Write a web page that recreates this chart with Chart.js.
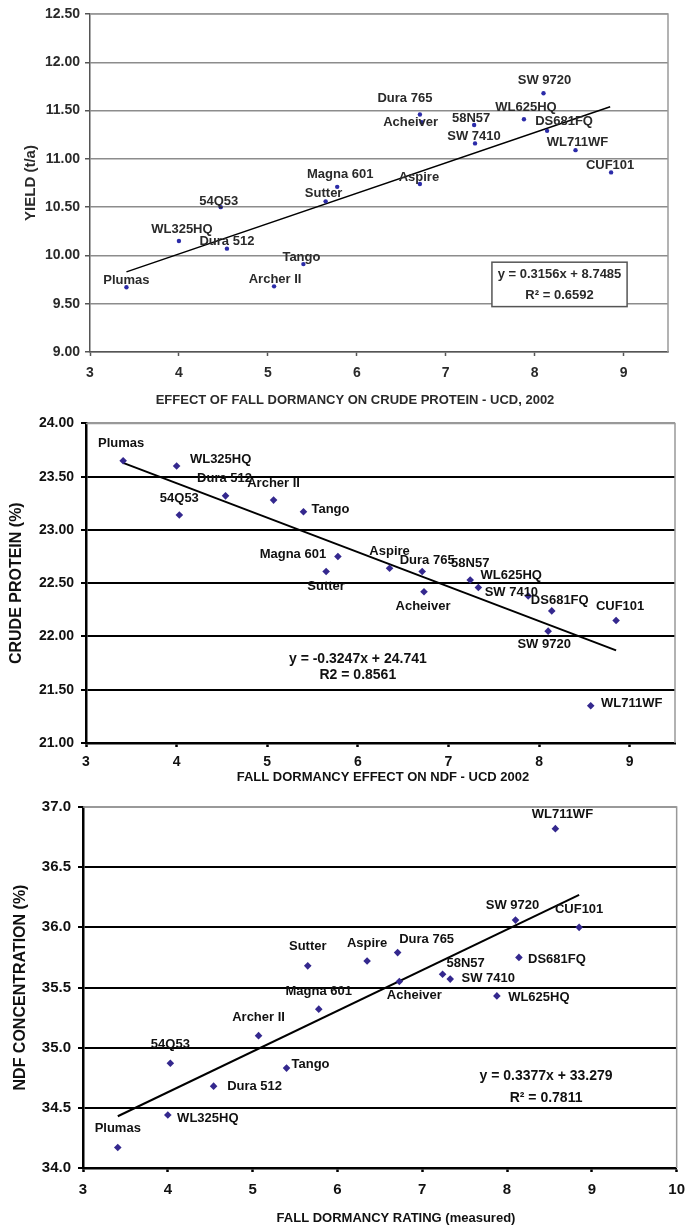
<!DOCTYPE html>
<html>
<head>
<meta charset="utf-8">
<script src="https://cdn.jsdelivr.net/npm/chart.js@4/dist/chart.umd.min.js"></script>
<style>
  body { margin: 0; background: #fff; width: 694px; height: 1230px; overflow: hidden; }
  .box { position: absolute; left: 0; width: 694px; }
</style>
</head>
<body>
<div class="box" style="top:0;height:408px"><canvas id="yieldChart"></canvas></div>
<div class="box" style="top:408px;height:377px"><canvas id="proteinChart"></canvas></div>
<div class="box" style="top:785px;height:445px"><canvas id="ndfChart"></canvas></div>
<script>
const varieties = ["Plumas", "WL325HQ", "54Q53", "Dura 512", "Archer II", "Tango", "Sutter", "Magna 601",
  "Aspire", "Dura 765", "Acheiver", "58N57", "SW 7410", "WL625HQ", "SW 9720", "DS681FQ", "WL711WF", "CUF101"];

// fall dormancy rating (measured) as plotted
const fdRating = [3.41, 4.00, 4.03, 4.54, 5.07, 5.40, 5.65, 5.78, 6.35, 6.71, 6.73, 7.24, 7.33, 7.88, 8.10, 8.14, 8.57, 8.85];
const fdRatingYield = [3.41, 4.00, 4.47, 4.54, 5.07, 5.40, 5.65, 5.78, 6.71, 6.71, 6.73, 7.32, 7.33, 7.88, 8.10, 8.14, 8.46, 8.86];

const yieldVals = [9.67, 10.15, 10.50, 10.07, 9.68, 9.91, 10.56, 10.71, 10.74, 11.46, 11.38, 11.35, 11.16, 11.41, 11.68, 11.29, 11.09, 10.86];
const proteinVals = [23.65, 23.60, 23.14, 23.32, 23.28, 23.17, 22.61, 22.75, 22.64, 22.61, 22.42, 22.53, 22.46, 22.38, 22.05, 22.24, 21.35, 22.15];
const ndfVals = [34.17, 34.44, 34.87, 34.68, 35.10, 34.83, 35.68, 35.32, 35.72, 35.79, 35.55, 35.61, 35.57, 35.43, 36.06, 35.75, 36.82, 36.00];

// trend line end points
const yieldTrendX = [3.41, 8.85];
const yieldTrendY = [9.83, 11.54];
const proteinTrendX = [3.41, 8.85];
const proteinTrendY = [23.63, 21.87];
const ndfTrendX = [3.41, 8.85];
const ndfTrendY = [34.43, 36.27];

const yieldEq = ["y = 0.3156x + 8.7485", "R\u00B2 = 0.6592"];
const proteinEq = ["y = -0.3247x + 24.741", "R2 = 0.8561"];
const ndfEq = ["y = 0.3377x + 33.279", "R\u00B2 = 0.7811"];

// label placement relative to each point (px)
const yieldLabelPos = [[0,-7],[3,-12],[-2,-6],[0,-7],[1,-7],[-2,-7],[-2,-8],[3,-12],[-1,-7],[-15,-16],[-11,0],[-3,-7],[-1,-7],[2,-12],[1,-13],[17,-9],[2,-8],[-1,-7]];
const proteinLabelPos = [[-2,-17],[44,-7],[0,-17],[-1,-17],[0,-17],[27,-2],[0,15],[-45,-2],[0,-17],[5,-11],[-1,15],[0,-17],[33,5],[-17,-21],[-4,13],[8,-10],[41,-2],[4,-14]];
const ndfLabelPos = [[0,-19],[40,3],[0,-19],[41,0],[0,-18],[24,-4],[0,-19],[0,-18],[0,-18],[29,-13],[15,14],[23,-11],[38,-1],[42,1],[-3,-15],[38,2],[7,-14],[0,-18]];

const FONT = "'Liberation Sans', Arial, sans-serif";

const pointLabels = {
  id: "pointLabels",
  afterDatasetsDraw(chart, args, opts) {
    const ctx = chart.ctx;
    const meta = chart.getDatasetMeta(0);
    const xs = chart.scales.x, ys = chart.scales.y;
    ctx.save();
    ctx.font = opts.font;
    ctx.fillStyle = opts.color;
    ctx.textAlign = "center";
    ctx.textBaseline = "middle";
    meta.data.forEach((pt, i) => {
      const off = opts.offsets[i];
      ctx.fillText(opts.names[i], pt.x + off[0], pt.y + off[1]);
    });
    const eq = opts.equation;
    ctx.font = eq.font;
    const cx = xs.getPixelForValue(eq.x);
    if (eq.box) {
      const l = xs.getPixelForValue(eq.box[0]), r = xs.getPixelForValue(eq.box[1]);
      const t = ys.getPixelForValue(eq.box[2]), b = ys.getPixelForValue(eq.box[3]);
      ctx.fillStyle = "#fff";
      ctx.fillRect(l, t, r - l, b - t);
      ctx.strokeStyle = "#555";
      ctx.lineWidth = 1.5;
      ctx.strokeRect(l, t, r - l, b - t);
      ctx.fillStyle = opts.color;
    }
    eq.lines.forEach((txt, k) => ctx.fillText(txt, cx, ys.getPixelForValue(eq.y[k])));

    // x axis caption
    const cap = opts.caption;
    ctx.font = cap.font;
    ctx.fillText(cap.text, cap.x, cap.y);
    ctx.restore();
  }
};

const frame = {
  id: "frame",
  beforeDatasetsDraw(chart, args, opts) {
    const a = chart.chartArea, ctx = chart.ctx;
    ctx.save();
    ctx.strokeStyle = opts.color;
    ctx.lineWidth = opts.width;
    ctx.beginPath();
    ctx.moveTo(a.left, a.top);
    ctx.lineTo(a.right, a.top);
    ctx.lineTo(a.right, a.bottom);
    ctx.stroke();
    ctx.restore();
  }
};

function makeChart(id, c) {
  const pts = c.xs.map((x, i) => ({ x: x, y: c.ys[i] }));
  const trend = c.tx.map((x, i) => ({ x: x, y: c.ty[i] }));
  return new Chart(document.getElementById(id), {
    type: "scatter",
    data: {
      datasets: [
        {
          data: pts,
          pointStyle: c.pointStyle,
          pointRadius: c.pointRadius,
          backgroundColor: c.pointColor,
          borderColor: c.pointColor,
          borderWidth: 0,
        },
        {
          data: trend,
          showLine: true,
          pointRadius: 0,
          borderColor: "#000",
          borderWidth: c.trendWidth,
        },
      ],
    },
    options: {
      responsive: true,
      maintainAspectRatio: false,
      animation: false,
      layout: { padding: { top: c.top, right: c.right, left: 0, bottom: 0 } },
      scales: {
        x: {
          type: "linear",
          min: 3,
          max: c.xMax,
          ticks: { stepSize: 1, includeBounds: false, padding: c.xTickPad, color: c.text,
            font: { family: FONT, size: c.tickSize, weight: "bold" } },
          grid: { drawOnChartArea: false, drawTicks: true, tickLength: 4, tickColor: c.axisColor, tickWidth: c.axisWidth },
          border: { color: c.axisColor, width: c.axisWidth },
          afterFit: (s) => { s.height = c.xHeight; },
        },
        y: {
          type: "linear",
          min: c.yMin,
          max: c.yMax,
          ticks: { stepSize: 0.5, padding: c.yTickPad, color: c.text,
            font: { family: FONT, size: c.tickSize, weight: "bold" },
            callback: (v) => v.toFixed(c.decimals) },
          grid: {
            color: (ctx) => (ctx.tick && ctx.tick.value === c.yMax ? c.frameColor : c.gridColor),
            lineWidth: c.gridWidth,
            tickLength: 5,
            tickColor: c.axisColor,
          },
          border: { color: c.axisColor, width: c.axisWidth },
          title: { display: true, text: c.yTitle, color: c.text,
            font: { family: FONT, size: c.yTitleSize, weight: "bold" }, padding: { top: c.yTitlePad, bottom: 0 } },
          afterFit: (s) => { s.width = c.left; },
        },
      },
      plugins: {
        legend: { display: false },
        tooltip: { enabled: false },
        frame: { color: c.frameColor, width: 1.5 },
        pointLabels: {
          names: varieties,
          offsets: c.labelPos,
          font: "bold 13px " + FONT,
          color: c.text,
          equation: c.equation,
          caption: { text: c.xTitle, x: c.xTitleX, y: c.xTitleY, font: "bold 13px " + FONT },
        },
      },
    },
    plugins: [frame, pointLabels],
  });
}

window.onload = () => {
  makeChart("yieldChart", {
    xs: fdRatingYield, ys: yieldVals, tx: yieldTrendX, ty: yieldTrendY,
    xMax: 9.5, yMin: 9, yMax: 12.5, decimals: 2,
    top: 14, right: 26, left: 90, xHeight: 56,
    xTickPad: 9, yTickPad: 5, yTitlePad: 22, yTitleSize: 15,
    tickSize: 14, text: "#2a2a2a",
    gridColor: "#8c8c8c", gridWidth: 1.5, frameColor: "#9a9a9a",
    axisColor: "#555", axisWidth: 1.5,
    pointStyle: "circle", pointRadius: 2.2, pointColor: "#2b2ba8", trendWidth: 1.5,
    xTitle: "EFFECT OF FALL DORMANCY ON CRUDE PROTEIN - UCD, 2002", xTitleX: 355, xTitleY: 400,
    yTitle: "YIELD (t/a)",
    labelPos: yieldLabelPos,
    equation: { lines: yieldEq, x: 8.28, y: [9.80, 9.59], box: [7.52, 9.04, 9.93, 9.47], font: "bold 13px " + FONT },
  });

  makeChart("proteinChart", {
    xs: fdRating, ys: proteinVals, tx: proteinTrendX, ty: proteinTrendY,
    xMax: 9.5, yMin: 21, yMax: 24, decimals: 2,
    top: 10, right: 19, left: 86, xHeight: 42,
    xTickPad: 7, yTickPad: 7, yTitlePad: 7, yTitleSize: 16,
    tickSize: 14, text: "#111",
    gridColor: "#000", gridWidth: 2, frameColor: "#999",
    axisColor: "#000", axisWidth: 2.5,
    pointStyle: "rectRot", pointRadius: 3.8, pointColor: "#34288e", trendWidth: 2,
    xTitle: "FALL DORMANCY EFFECT ON NDF - UCD 2002", xTitleX: 383, xTitleY: 369,
    yTitle: "CRUDE PROTEIN (%)",
    labelPos: proteinLabelPos,
    equation: { lines: proteinEq, x: 6.0, y: [21.79, 21.64], font: "bold 14px " + FONT },
  });

  makeChart("ndfChart", {
    xs: fdRating, ys: ndfVals, tx: ndfTrendX, ty: ndfTrendY,
    xMax: 10, yMin: 34, yMax: 37, decimals: 1,
    top: 22, right: 13, left: 83, xHeight: 62,
    xTickPad: 9, yTickPad: 7, yTitlePad: 11, yTitleSize: 16,
    tickSize: 15, text: "#111",
    gridColor: "#000", gridWidth: 2, frameColor: "#999",
    axisColor: "#000", axisWidth: 2.5,
    pointStyle: "rectRot", pointRadius: 3.8, pointColor: "#34288e", trendWidth: 2,
    xTitle: "FALL DORMANCY RATING (measured)", xTitleX: 396, xTitleY: 433,
    yTitle: "NDF CONCENTRATION (%)",
    labelPos: ndfLabelPos,
    equation: { lines: ndfEq, x: 8.46, y: [34.76, 34.58], font: "bold 14px " + FONT },
  });
};
</script>
</body>
</html>
